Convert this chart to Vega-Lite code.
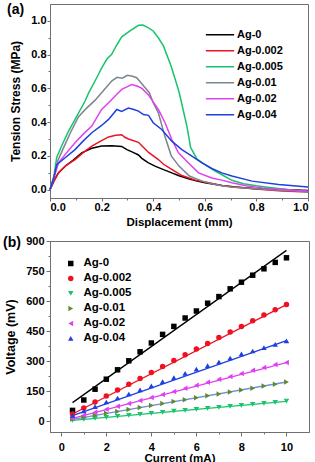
{
  "$schema": "https://vega.github.io/schema/vega-lite/v6.json",
  "padding": {"left": 2, "top": 2, "right": 0, "bottom": 0},
  "background": "white",
  "config": {
    "font": "Liberation Sans",
    "view": {"stroke": "#707070", "strokeWidth": 1},
    "axis": {"labelFont": "Liberation Sans", "labelFontWeight": "bold", "labelFontSize": 11, "labelColor": "#000", "titleFont": "Liberation Sans", "titleFontWeight": "bold", "titleColor": "#000", "domainColor": "#707070", "tickColor": "#707070", "grid": false, "tickSize": 4, "labelPadding": 1, "titlePadding": 7},
    "legend": {"labelFont": "Liberation Sans", "labelFontWeight": "bold", "labelColor": "#000"},
    "title": {"font": "Liberation Sans", "fontWeight": "bold", "fontSize": 14, "color": "#000", "anchor": "start", "frame": "group"},
    "concat": {"spacing": 6}
  },
  "datasets": {
    "a": [
      {"s":"Ag-0","x":0,"y":0},{"s":"Ag-0","x":0.015,"y":0.05},{"s":"Ag-0","x":0.033,"y":0.1},{"s":"Ag-0","x":0.06,"y":0.14},{"s":"Ag-0","x":0.09,"y":0.175},{"s":"Ag-0","x":0.123,"y":0.218},{"s":"Ag-0","x":0.162,"y":0.245},{"s":"Ag-0","x":0.2,"y":0.258},{"s":"Ag-0","x":0.24,"y":0.26},{"s":"Ag-0","x":0.278,"y":0.256},{"s":"Ag-0","x":0.298,"y":0.237},{"s":"Ag-0","x":0.32,"y":0.222},{"s":"Ag-0","x":0.343,"y":0.205},{"s":"Ag-0","x":0.356,"y":0.185},{"s":"Ag-0","x":0.38,"y":0.16},{"s":"Ag-0","x":0.407,"y":0.139},{"s":"Ag-0","x":0.44,"y":0.118},{"s":"Ag-0","x":0.472,"y":0.099},{"s":"Ag-0","x":0.5,"y":0.082},{"s":"Ag-0","x":0.537,"y":0.064},{"s":"Ag-0","x":0.57,"y":0.05},{"s":"Ag-0","x":0.601,"y":0.04},{"s":"Ag-0","x":0.666,"y":0.024},{"s":"Ag-0","x":0.72,"y":0.015},{"s":"Ag-0","x":0.8,"y":0.005},{"s":"Ag-0","x":0.9,"y":0.0},{"s":"Ag-0","x":1.0,"y":-0.006},
      {"s":"Ag-0.002","x":0,"y":0},{"s":"Ag-0.002","x":0.015,"y":0.05},{"s":"Ag-0.002","x":0.033,"y":0.099},{"s":"Ag-0.002","x":0.06,"y":0.14},{"s":"Ag-0.002","x":0.097,"y":0.178},{"s":"Ag-0.002","x":0.13,"y":0.22},{"s":"Ag-0.002","x":0.162,"y":0.258},{"s":"Ag-0.002","x":0.2,"y":0.29},{"s":"Ag-0.002","x":0.227,"y":0.312},{"s":"Ag-0.002","x":0.255,"y":0.322},{"s":"Ag-0.002","x":0.278,"y":0.325},{"s":"Ag-0.002","x":0.29,"y":0.31},{"s":"Ag-0.002","x":0.304,"y":0.3},{"s":"Ag-0.002","x":0.343,"y":0.28},{"s":"Ag-0.002","x":0.356,"y":0.26},{"s":"Ag-0.002","x":0.382,"y":0.22},{"s":"Ag-0.002","x":0.42,"y":0.178},{"s":"Ag-0.002","x":0.44,"y":0.15},{"s":"Ag-0.002","x":0.472,"y":0.119},{"s":"Ag-0.002","x":0.511,"y":0.083},{"s":"Ag-0.002","x":0.563,"y":0.056},{"s":"Ag-0.002","x":0.615,"y":0.04},{"s":"Ag-0.002","x":0.666,"y":0.024},{"s":"Ag-0.002","x":0.72,"y":0.013},{"s":"Ag-0.002","x":0.822,"y":0.0},{"s":"Ag-0.002","x":0.9,"y":-0.008},{"s":"Ag-0.002","x":1.0,"y":-0.014},
      {"s":"Ag-0.005","x":0,"y":0},{"s":"Ag-0.005","x":0.015,"y":0.08},{"s":"Ag-0.005","x":0.026,"y":0.19},{"s":"Ag-0.005","x":0.045,"y":0.258},{"s":"Ag-0.005","x":0.07,"y":0.34},{"s":"Ag-0.005","x":0.097,"y":0.416},{"s":"Ag-0.005","x":0.136,"y":0.525},{"s":"Ag-0.005","x":0.149,"y":0.57},{"s":"Ag-0.005","x":0.18,"y":0.66},{"s":"Ag-0.005","x":0.2,"y":0.72},{"s":"Ag-0.005","x":0.22,"y":0.772},{"s":"Ag-0.005","x":0.239,"y":0.802},{"s":"Ag-0.005","x":0.26,"y":0.86},{"s":"Ag-0.005","x":0.278,"y":0.905},{"s":"Ag-0.005","x":0.31,"y":0.94},{"s":"Ag-0.005","x":0.343,"y":0.974},{"s":"Ag-0.005","x":0.36,"y":0.975},{"s":"Ag-0.005","x":0.38,"y":0.96},{"s":"Ag-0.005","x":0.4,"y":0.94},{"s":"Ag-0.005","x":0.42,"y":0.9},{"s":"Ag-0.005","x":0.44,"y":0.85},{"s":"Ag-0.005","x":0.47,"y":0.73},{"s":"Ag-0.005","x":0.5,"y":0.58},{"s":"Ag-0.005","x":0.53,"y":0.38},{"s":"Ag-0.005","x":0.545,"y":0.25},{"s":"Ag-0.005","x":0.57,"y":0.18},{"s":"Ag-0.005","x":0.6,"y":0.15},{"s":"Ag-0.005","x":0.64,"y":0.11},{"s":"Ag-0.005","x":0.67,"y":0.085},{"s":"Ag-0.005","x":0.705,"y":0.055},{"s":"Ag-0.005","x":0.75,"y":0.035},{"s":"Ag-0.005","x":0.8,"y":0.022},{"s":"Ag-0.005","x":0.85,"y":0.012},{"s":"Ag-0.005","x":0.92,"y":0.0},{"s":"Ag-0.005","x":1.0,"y":-0.015},
      {"s":"Ag-0.01","x":0,"y":0},{"s":"Ag-0.01","x":0.015,"y":0.07},{"s":"Ag-0.01","x":0.03,"y":0.17},{"s":"Ag-0.01","x":0.05,"y":0.24},{"s":"Ag-0.01","x":0.08,"y":0.34},{"s":"Ag-0.01","x":0.11,"y":0.43},{"s":"Ag-0.01","x":0.14,"y":0.48},{"s":"Ag-0.01","x":0.175,"y":0.53},{"s":"Ag-0.01","x":0.2,"y":0.574},{"s":"Ag-0.01","x":0.24,"y":0.645},{"s":"Ag-0.01","x":0.26,"y":0.665},{"s":"Ag-0.01","x":0.28,"y":0.66},{"s":"Ag-0.01","x":0.3,"y":0.677},{"s":"Ag-0.01","x":0.32,"y":0.672},{"s":"Ag-0.01","x":0.336,"y":0.663},{"s":"Ag-0.01","x":0.36,"y":0.62},{"s":"Ag-0.01","x":0.385,"y":0.574},{"s":"Ag-0.01","x":0.4,"y":0.515},{"s":"Ag-0.01","x":0.42,"y":0.455},{"s":"Ag-0.01","x":0.445,"y":0.317},{"s":"Ag-0.01","x":0.47,"y":0.2},{"s":"Ag-0.01","x":0.5,"y":0.139},{"s":"Ag-0.01","x":0.54,"y":0.08},{"s":"Ag-0.01","x":0.59,"y":0.05},{"s":"Ag-0.01","x":0.64,"y":0.03},{"s":"Ag-0.01","x":0.7,"y":0.015},{"s":"Ag-0.01","x":0.8,"y":0.005},{"s":"Ag-0.01","x":0.9,"y":-0.005},{"s":"Ag-0.01","x":1.0,"y":-0.01},
      {"s":"Ag-0.02","x":0,"y":0},{"s":"Ag-0.02","x":0.015,"y":0.07},{"s":"Ag-0.02","x":0.033,"y":0.158},{"s":"Ag-0.02","x":0.06,"y":0.21},{"s":"Ag-0.02","x":0.097,"y":0.277},{"s":"Ag-0.02","x":0.13,"y":0.33},{"s":"Ag-0.02","x":0.162,"y":0.376},{"s":"Ag-0.02","x":0.2,"y":0.475},{"s":"Ag-0.02","x":0.227,"y":0.515},{"s":"Ag-0.02","x":0.265,"y":0.574},{"s":"Ag-0.02","x":0.278,"y":0.594},{"s":"Ag-0.02","x":0.3,"y":0.61},{"s":"Ag-0.02","x":0.317,"y":0.622},{"s":"Ag-0.02","x":0.34,"y":0.612},{"s":"Ag-0.02","x":0.356,"y":0.6},{"s":"Ag-0.02","x":0.382,"y":0.56},{"s":"Ag-0.02","x":0.4,"y":0.52},{"s":"Ag-0.02","x":0.42,"y":0.475},{"s":"Ag-0.02","x":0.446,"y":0.396},{"s":"Ag-0.02","x":0.472,"y":0.297},{"s":"Ag-0.02","x":0.498,"y":0.218},{"s":"Ag-0.02","x":0.537,"y":0.158},{"s":"Ag-0.02","x":0.576,"y":0.099},{"s":"Ag-0.02","x":0.627,"y":0.069},{"s":"Ag-0.02","x":0.666,"y":0.056},{"s":"Ag-0.02","x":0.705,"y":0.04},{"s":"Ag-0.02","x":0.76,"y":0.022},{"s":"Ag-0.02","x":0.822,"y":0.01},{"s":"Ag-0.02","x":0.9,"y":0.0},{"s":"Ag-0.02","x":1.0,"y":-0.01},
      {"s":"Ag-0.04","x":0,"y":0},{"s":"Ag-0.04","x":0.015,"y":0.07},{"s":"Ag-0.04","x":0.026,"y":0.148},{"s":"Ag-0.04","x":0.06,"y":0.19},{"s":"Ag-0.04","x":0.097,"y":0.237},{"s":"Ag-0.04","x":0.13,"y":0.29},{"s":"Ag-0.04","x":0.162,"y":0.337},{"s":"Ag-0.04","x":0.2,"y":0.38},{"s":"Ag-0.04","x":0.227,"y":0.416},{"s":"Ag-0.04","x":0.259,"y":0.475},{"s":"Ag-0.04","x":0.278,"y":0.463},{"s":"Ag-0.04","x":0.304,"y":0.483},{"s":"Ag-0.04","x":0.325,"y":0.475},{"s":"Ag-0.04","x":0.343,"y":0.465},{"s":"Ag-0.04","x":0.362,"y":0.445},{"s":"Ag-0.04","x":0.382,"y":0.44},{"s":"Ag-0.04","x":0.4,"y":0.396},{"s":"Ag-0.04","x":0.433,"y":0.356},{"s":"Ag-0.04","x":0.472,"y":0.287},{"s":"Ag-0.04","x":0.511,"y":0.237},{"s":"Ag-0.04","x":0.55,"y":0.198},{"s":"Ag-0.04","x":0.589,"y":0.158},{"s":"Ag-0.04","x":0.627,"y":0.125},{"s":"Ag-0.04","x":0.666,"y":0.099},{"s":"Ag-0.04","x":0.705,"y":0.08},{"s":"Ag-0.04","x":0.783,"y":0.05},{"s":"Ag-0.04","x":0.886,"y":0.03},{"s":"Ag-0.04","x":1.0,"y":0.015}
    ],
    "bp": [
      {"s":"Ag-0","x":0.5,"y":53},{"s":"Ag-0","x":1,"y":105},{"s":"Ag-0","x":1.5,"y":159},{"s":"Ag-0","x":2,"y":209},{"s":"Ag-0","x":2.5,"y":256},{"s":"Ag-0","x":3,"y":301},{"s":"Ag-0","x":3.5,"y":346},{"s":"Ag-0","x":4,"y":390},{"s":"Ag-0","x":4.5,"y":433},{"s":"Ag-0","x":5,"y":473},{"s":"Ag-0","x":5.5,"y":515},{"s":"Ag-0","x":6,"y":550},{"s":"Ag-0","x":6.5,"y":589},{"s":"Ag-0","x":7,"y":622},{"s":"Ag-0","x":7.5,"y":661},{"s":"Ag-0","x":8,"y":694},{"s":"Ag-0","x":8.5,"y":729},{"s":"Ag-0","x":9,"y":761},{"s":"Ag-0","x":9.5,"y":793},{"s":"Ag-0","x":10,"y":816},
      {"s":"Ag-0.002","x":0.5,"y":35},{"s":"Ag-0.002","x":1,"y":65},{"s":"Ag-0.002","x":1.5,"y":95},{"s":"Ag-0.002","x":2,"y":125},{"s":"Ag-0.002","x":2.5,"y":155},{"s":"Ag-0.002","x":3,"y":184},{"s":"Ag-0.002","x":3.5,"y":213},{"s":"Ag-0.002","x":4,"y":243},{"s":"Ag-0.002","x":4.5,"y":273},{"s":"Ag-0.002","x":5,"y":303},{"s":"Ag-0.002","x":5.5,"y":331},{"s":"Ag-0.002","x":6,"y":360},{"s":"Ag-0.002","x":6.5,"y":388},{"s":"Ag-0.002","x":7,"y":417},{"s":"Ag-0.002","x":7.5,"y":445},{"s":"Ag-0.002","x":8,"y":473},{"s":"Ag-0.002","x":8.5,"y":501},{"s":"Ag-0.002","x":9,"y":530},{"s":"Ag-0.002","x":9.5,"y":556},{"s":"Ag-0.002","x":10,"y":582},
      {"s":"Ag-0.005","x":0.5,"y":3},{"s":"Ag-0.005","x":1,"y":8},{"s":"Ag-0.005","x":1.5,"y":13},{"s":"Ag-0.005","x":2,"y":18},{"s":"Ag-0.005","x":2.5,"y":23},{"s":"Ag-0.005","x":3,"y":28},{"s":"Ag-0.005","x":3.5,"y":33},{"s":"Ag-0.005","x":4,"y":38},{"s":"Ag-0.005","x":4.5,"y":43},{"s":"Ag-0.005","x":5,"y":49},{"s":"Ag-0.005","x":5.5,"y":53},{"s":"Ag-0.005","x":6,"y":58},{"s":"Ag-0.005","x":6.5,"y":63},{"s":"Ag-0.005","x":7,"y":68},{"s":"Ag-0.005","x":7.5,"y":73},{"s":"Ag-0.005","x":8,"y":78},{"s":"Ag-0.005","x":8.5,"y":83},{"s":"Ag-0.005","x":9,"y":88},{"s":"Ag-0.005","x":9.5,"y":93},{"s":"Ag-0.005","x":10,"y":99},
      {"s":"Ag-0.01","x":0.5,"y":10},{"s":"Ag-0.01","x":1,"y":19},{"s":"Ag-0.01","x":1.5,"y":29},{"s":"Ag-0.01","x":2,"y":39},{"s":"Ag-0.01","x":2.5,"y":48},{"s":"Ag-0.01","x":3,"y":58},{"s":"Ag-0.01","x":3.5,"y":68},{"s":"Ag-0.01","x":4,"y":77},{"s":"Ag-0.01","x":4.5,"y":87},{"s":"Ag-0.01","x":5,"y":97},{"s":"Ag-0.01","x":5.5,"y":106},{"s":"Ag-0.01","x":6,"y":116},{"s":"Ag-0.01","x":6.5,"y":126},{"s":"Ag-0.01","x":7,"y":135},{"s":"Ag-0.01","x":7.5,"y":145},{"s":"Ag-0.01","x":8,"y":155},{"s":"Ag-0.01","x":8.5,"y":164},{"s":"Ag-0.01","x":9,"y":175},{"s":"Ag-0.01","x":9.5,"y":184},{"s":"Ag-0.01","x":10,"y":195},
      {"s":"Ag-0.02","x":0.5,"y":14},{"s":"Ag-0.02","x":1,"y":29},{"s":"Ag-0.02","x":1.5,"y":44},{"s":"Ag-0.02","x":2,"y":59},{"s":"Ag-0.02","x":2.5,"y":74},{"s":"Ag-0.02","x":3,"y":88},{"s":"Ag-0.02","x":3.5,"y":103},{"s":"Ag-0.02","x":4,"y":117},{"s":"Ag-0.02","x":4.5,"y":133},{"s":"Ag-0.02","x":5,"y":148},{"s":"Ag-0.02","x":5.5,"y":164},{"s":"Ag-0.02","x":6,"y":179},{"s":"Ag-0.02","x":6.5,"y":194},{"s":"Ag-0.02","x":7,"y":209},{"s":"Ag-0.02","x":7.5,"y":223},{"s":"Ag-0.02","x":8,"y":238},{"s":"Ag-0.02","x":8.5,"y":254},{"s":"Ag-0.02","x":9,"y":267},{"s":"Ag-0.02","x":9.5,"y":282},{"s":"Ag-0.02","x":10,"y":293},
      {"s":"Ag-0.04","x":0.5,"y":28},{"s":"Ag-0.04","x":1,"y":50},{"s":"Ag-0.04","x":1.5,"y":72},{"s":"Ag-0.04","x":2,"y":95},{"s":"Ag-0.04","x":2.5,"y":115},{"s":"Ag-0.04","x":3,"y":135},{"s":"Ag-0.04","x":3.5,"y":156},{"s":"Ag-0.04","x":4,"y":176},{"s":"Ag-0.04","x":4.5,"y":197},{"s":"Ag-0.04","x":5,"y":217},{"s":"Ag-0.04","x":5.5,"y":238},{"s":"Ag-0.04","x":6,"y":259},{"s":"Ag-0.04","x":6.5,"y":277},{"s":"Ag-0.04","x":7,"y":295},{"s":"Ag-0.04","x":7.5,"y":315},{"s":"Ag-0.04","x":8,"y":336},{"s":"Ag-0.04","x":8.5,"y":350},{"s":"Ag-0.04","x":9,"y":367},{"s":"Ag-0.04","x":9.5,"y":383},{"s":"Ag-0.04","x":10,"y":401}
    ],
    "bf": [
      {"s":"Ag-0","x":0.5,"y":92},{"s":"Ag-0","x":10,"y":853},
      {"s":"Ag-0.002","x":0.5,"y":35},{"s":"Ag-0.002","x":10,"y":582},
      {"s":"Ag-0.005","x":0.5,"y":3},{"s":"Ag-0.005","x":10,"y":98},
      {"s":"Ag-0.01","x":0.5,"y":8},{"s":"Ag-0.01","x":10,"y":195},
      {"s":"Ag-0.02","x":0.5,"y":13},{"s":"Ag-0.02","x":10,"y":292},
      {"s":"Ag-0.04","x":0.5,"y":27},{"s":"Ag-0.04","x":10,"y":402}
    ]
  },
  "vconcat": [
    {
      "width": 258,
      "height": 194,
      "title": {"text": "(a)", "dx": -43, "offset": -20, "baseline": "middle"},
      "data": {"name": "a"},
      "layer": [
        {
          "mark": {"type": "line", "strokeWidth": 1.5},
          "encoding": {
            "x": {"field": "x", "type": "quantitative", "scale": {"domain": [0, 1], "nice": false, "zero": false}, "axis": {"values": [0, 0.2, 0.4, 0.6, 0.8, 1], "format": ".1f", "title": "Displacement (mm)", "titleFontSize": 11.5, "tickSize": 3, "labelPadding": 0, "titlePadding": 4}},
            "y": {"field": "y", "type": "quantitative", "scale": {"domain": [-0.05, 1.1], "nice": false, "zero": false}, "axis": {"values": [0, 0.2, 0.4, 0.6, 0.8, 1], "format": ".1f", "title": "Tension Stress (MPa)", "titleFontSize": 12, "tickSize": 3, "labelPadding": 1, "titlePadding": 8}},
            "color": {"field": "s", "type": "nominal", "sort": null,
              "scale": {"domain": ["Ag-0", "Ag-0.002", "Ag-0.005", "Ag-0.01", "Ag-0.02", "Ag-0.04"], "range": ["#000000", "#ee1122", "#18c46c", "#7a858e", "#e040f0", "#1f3fe0"]},
              "legend": {"title": null, "orient": "none", "legendX": 155, "legendY": 23, "symbolType": "stroke", "symbolSize": 800, "symbolStrokeWidth": 1.5, "clipHeight": 15.3, "rowPadding": 0, "labelFontSize": 11, "labelOffset": 2}}
          }
        },
        {
          "mark": {"type": "point", "opacity": 0},
          "encoding": {
            "x": {"field": "x", "type": "quantitative", "axis": {"orient": "bottom", "values": [0.1, 0.3, 0.5, 0.7, 0.9], "labels": false, "domain": false, "tickSize": 2, "title": null}},
            "y": {"field": "y", "type": "quantitative", "axis": {"orient": "left", "values": [0.1, 0.3, 0.5, 0.7, 0.9], "labels": false, "domain": false, "tickSize": 2, "title": null}}
          }
        }
      ],
      "resolve": {"scale": {"color": "independent"}, "axis": {"x": "independent", "y": "independent"}}
    },
    {
      "width": 259,
      "height": 191,
      "title": {"text": "(b)", "dx": -47, "offset": -22, "baseline": "middle"},
      "layer": [
        {
          "data": {"name": "bf"},
          "mark": {"type": "line", "strokeWidth": 1.3},
          "encoding": {
            "x": {"field": "x", "type": "quantitative", "scale": {"domain": [-0.5, 11], "nice": false, "zero": false}, "axis": {"values": [0, 2, 4, 6, 8, 10], "title": "Current (mA)", "titleFontSize": 11.5, "tickSize": 4, "labelPadding": 5, "titlePadding": 0}},
            "y": {"field": "y", "type": "quantitative", "scale": {"domain": [-55, 900], "nice": false, "zero": false}, "axis": {"values": [0, 150, 300, 450, 600, 750, 900], "title": "Voltage (mV)", "titleFontSize": 12.5, "tickSize": 4, "labelPadding": 2, "titlePadding": 8}},
            "stroke": {"field": "s", "type": "nominal", "sort": null,
              "scale": {"domain": ["Ag-0", "Ag-0.002", "Ag-0.005", "Ag-0.01", "Ag-0.02", "Ag-0.04"], "range": ["#000000", "#ee1122", "#18c46c", "#7090d8", "#e040f0", "#1f3fe0"]},
              "legend": null}
          }
        },
        {
          "data": {"name": "bp"},
          "mark": {"type": "point", "filled": true, "size": 30, "opacity": 1},
          "encoding": {
            "x": {"field": "x", "type": "quantitative", "axis": null},
            "y": {"field": "y", "type": "quantitative", "axis": null},
            "fill": {"field": "s", "type": "nominal", "sort": null,
              "scale": {"domain": ["Ag-0", "Ag-0.002", "Ag-0.005", "Ag-0.01", "Ag-0.02", "Ag-0.04"], "range": ["#000000", "#ee1122", "#18c46c", "#5f8a2e", "#e040f0", "#1f3fe0"]},
              "legend": {"title": null, "orient": "top-left", "offset": 15, "clipHeight": 14.8, "rowPadding": 0, "labelFontSize": 11.5, "labelOffset": 7, "symbolSize": 30}},
            "shape": {"field": "s", "type": "nominal", "sort": null,
              "scale": {"domain": ["Ag-0", "Ag-0.002", "Ag-0.005", "Ag-0.01", "Ag-0.02", "Ag-0.04"], "range": ["square", "circle", "triangle-down", "triangle-right", "triangle-left", "triangle-up"]},
              "legend": {"title": null, "orient": "top-left", "offset": 15, "clipHeight": 14.8, "rowPadding": 0, "labelFontSize": 11.5, "labelOffset": 7, "symbolSize": 30}}
          }
        },
        {
          "data": {"name": "bp"},
          "mark": {"type": "point", "opacity": 0},
          "encoding": {
            "x": {"field": "x", "type": "quantitative", "axis": {"orient": "bottom", "values": [1, 3, 5, 7, 9], "labels": false, "domain": false, "tickSize": 2, "title": null}},
            "y": {"field": "y", "type": "quantitative", "axis": {"orient": "left", "values": [75, 225, 375, 525, 675, 825], "labels": false, "domain": false, "tickSize": 2, "title": null}}
          }
        }
      ],
      "resolve": {"scale": {"fill": "independent", "shape": "independent"}, "axis": {"x": "independent", "y": "independent"}}
    }
  ]
}
